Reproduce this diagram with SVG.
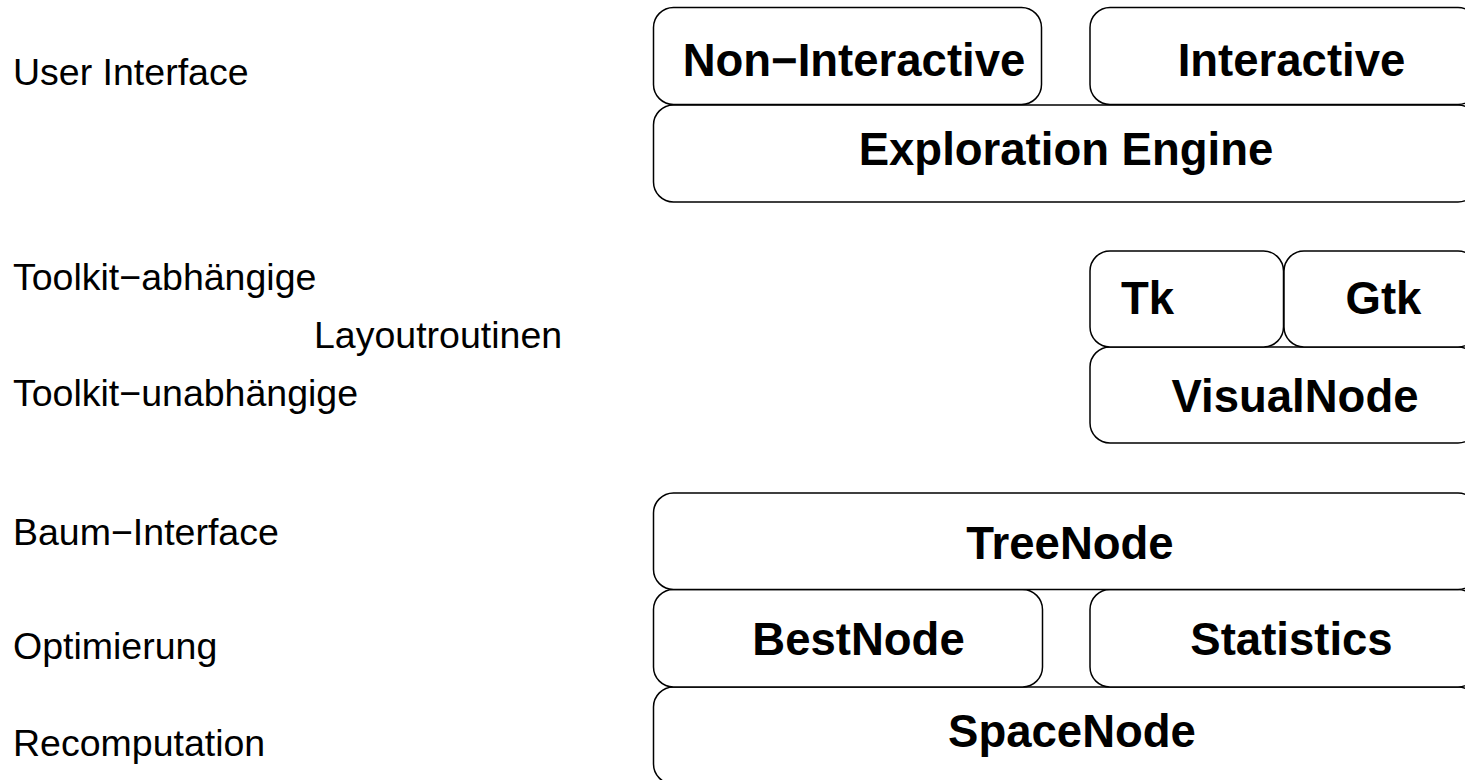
<svg xmlns="http://www.w3.org/2000/svg" width="1465" height="780" viewBox="0 0 1465 780">
<style>
.box{fill:#fff;stroke:#000;stroke-width:1.5}
.lbl{font-family:"Liberation Sans",Arial,sans-serif;font-size:45.5px;font-weight:bold;fill:#000;text-anchor:middle}
.side{font-family:"Liberation Sans",Arial,sans-serif;font-size:37.5px;fill:#000}
</style>
<rect width="1465" height="780" fill="#fff"/>
<g id="labels">
<text class="side" x="13" y="85">User Interface</text>
<text class="side" x="13" y="289.5">Toolkit−abhängige</text>
<text class="side" x="314" y="348">Layoutroutinen</text>
<text class="side" x="13" y="405.5">Toolkit−unabhängige</text>
<text class="side" x="13" y="545">Baum−Interface</text>
<text class="side" x="13" y="659">Optimierung</text>
<text class="side" x="13" y="756">Recomputation</text>
</g>
<g id="connectors"></g>
<g id="exploration-engine"><rect class="box" x="653.5" y="105" width="824.5" height="97" rx="20"/><text class="lbl" x="1066" y="165">Exploration Engine</text></g>
<g id="non-interactive"><rect class="box" x="653.5" y="7.5" width="388" height="97" rx="20"/><text class="lbl" x="854" y="76">Non−Interactive</text></g>
<g id="interactive"><rect class="box" x="1090" y="7.5" width="388" height="97" rx="20"/><text class="lbl" x="1291.5" y="76">Interactive</text></g>
<g id="visualnode"><rect class="box" x="1090" y="347" width="388" height="96" rx="20"/><text class="lbl" x="1295" y="411.5">VisualNode</text></g>
<g id="tk"><rect class="box" x="1090" y="251" width="193.5" height="96" rx="20"/><text class="lbl" x="1147.5" y="314">Tk</text></g>
<g id="gtk"><rect class="box" x="1284" y="251" width="194" height="96" rx="20"/><text class="lbl" x="1383.5" y="314">Gtk</text></g>
<g id="spacenode"><rect class="box" x="653.5" y="687" width="824.5" height="97" rx="20"/><text class="lbl" x="1072" y="746.5">SpaceNode</text></g>
<g id="bestnode"><rect class="box" x="653.5" y="589.5" width="389" height="97.5" rx="20"/><text class="lbl" x="858.5" y="655">BestNode</text></g>
<g id="statistics"><rect class="box" x="1090" y="589.5" width="388" height="97.5" rx="20"/><text class="lbl" x="1291.5" y="655">Statistics</text></g>
<g id="treenode"><rect class="box" x="653.5" y="493" width="824.5" height="96.5" rx="20"/><text class="lbl" x="1070" y="559">TreeNode</text></g>
</svg>
